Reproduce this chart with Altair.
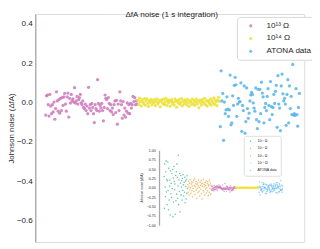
import altair as alt
import pandas as pd

FONT = "Liberation Sans"
TXT = "#262626"

# --- main chart series (Johnson noise, ΔfA) ---
pink = [-0.064, 0.034, 0.038, -0.011, -0.069, 0.041, -0.018, -0.057, -0.011, -0.048,
        0.002, -0.085, -0.031, 0.054, 0.008, -0.044, 0.015, -0.054, 0.021, -0.041,
        0.025, -0.015, 0.028, 0.046, -0.008, -0.044, 0.029, 0.048, -0.074, 0.021,
        -0.003, 0.041, 0.008, 0.018, 0.002, 0.075, -0.003, 0.008, 0.031, -0.008,
        0.015, 0.025, 0.041, -0.002, -0.011, 0.008, -0.025, -0.031, -0.008, -0.041,
        -0.018, -0.057, 0.077, -0.028, -0.011, -0.041, -0.005, -0.025, -0.057, -0.102,
        -0.011, -0.031, -0.041, 0.116, -0.005, -0.044, -0.015, -0.028, -0.005, -0.041,
        -0.093, -0.025, 0.038, 0.021, 0.015, -0.031, 0.025, -0.005, -0.041, -0.011,
        -0.048, -0.028, -0.061, -0.011, 0.008, -0.051, 0.011, -0.110, -0.008, -0.041,
        0.054, 0.008, -0.011, -0.080, 0.005, -0.064, -0.028, -0.074, -0.044, -0.002,
        -0.054, -0.011, -0.057, -0.005, -0.028, -0.011, 0.031, 0.005, 0.025, -0.011,
        0.008, -0.008]
yellow = [0.012, -0.010, 0.022, 0.004, -0.018, 0.015, 0.002, -0.006, 0.020, -0.014,
          0.008, 0.018, -0.004, -0.020, 0.010, 0.001, 0.016, -0.012, 0.006, -0.002,
          0.014, -0.016, 0.004, 0.019, -0.008, 0.000, 0.011, -0.022, 0.007, 0.013,
          -0.005, 0.017, -0.011, 0.003, 0.021, -0.015, 0.009, -0.001, 0.012, -0.019,
          0.005, 0.015, -0.007, 0.002, -0.013, 0.018, 0.006, -0.024, 0.010, -0.003,
          0.014, -0.009, 0.001, 0.020, -0.017, 0.008, -0.006, 0.013, 0.003, -0.012,
          0.016, -0.002, -0.020, 0.009, 0.004, -0.010, 0.019, -0.005, 0.011, -0.015,
          0.002, 0.017, -0.008, 0.006, -0.027, 0.012, 0.000, -0.013, 0.015, 0.005,
          -0.004, 0.021, -0.011, 0.007, -0.018, 0.010, 0.003, -0.006, 0.018, -0.014,
          0.008, -0.001, 0.024, -0.009, 0.013, 0.004, -0.016, 0.011, 0.026, 0.006]
blue = [-0.123, 0.161, 0.008, 0.046, -0.192, 0.002, -0.057, -0.038, 0.029, -0.034,
        -0.070, -0.038, 0.139, -0.113, -0.103, 0.034, -0.015, 0.087, 0.128, 0.090,
        -0.070, -0.008, 0.021, 0.002, 0.005, 0.100, -0.146, -0.015, -0.041, 0.084,
        -0.156, -0.097, 0.074, -0.031, -0.080, -0.054, 0.008, 0.038, 0.051, 0.041,
        -0.002, -0.028, -0.044, 0.074, -0.087, -0.133, 0.067, -0.097, 0.067, -0.057,
        0.103, 0.048, 0.029, -0.103, -0.025, -0.005, -0.041, 0.031, 0.070, -0.015,
        -0.087, 0.106, -0.021, -0.061, -0.025, 0.041, -0.005, 0.057, 0.087, -0.126,
        0.136, -0.008, -0.028, -0.143, 0.084, 0.144, 0.044, 0.008, 0.021, -0.008,
        -0.116, 0.041, 0.116, -0.103, 0.084, -0.031, 0.031, -0.061, 0.193, -0.064,
        -0.057, -0.066, 0.070, -0.061, -0.120, -0.025, 0.046]

# --- extra inset series ---
green = [0.30, -0.55, 0.64, 0.02, -0.24, 0.43, 0.72, -0.11, 0.22, -0.45,
         0.19, 0.69, -0.07, -0.59, 0.52, -0.33, 0.05, 0.21, -0.73, 0.45,
         -0.16, 0.12, -0.26, 0.38, -0.02, 0.49, -0.77, 0.26, -0.38, 0.57,
         0.17, -0.05, 0.10, -0.71, 0.33, -0.35, 0.43, -0.17, 0.64, 0.28,
         -0.28, 0.05, 0.87, -0.45, 0.21, -0.09, 0.38, -0.64, 0.12, 0.33,
         -0.19, 0.02, 0.19, -0.33, 0.25, -0.07, 0.35, 0.08, -0.22, 0.15,
         -0.12, 0.28, -0.40, 0.18, 0.04, -0.30, 0.22, -0.15, 0.32, -0.02]
orange = [0.08, -0.12, 0.18, 0.02, -0.20, 0.12, -0.05, 0.22, 0.00, -0.15,
          0.10, 0.16, -0.08, 0.04, -0.24, 0.14, -0.02, 0.20, -0.10, 0.06,
          0.24, -0.18, 0.03, 0.11, -0.06, 0.17, -0.28, 0.09, -0.01, 0.13,
          -0.13, 0.05, 0.21, -0.09, 0.01, -0.22, 0.15, 0.07, -0.04, 0.19,
          -0.16, 0.10, -0.30, 0.04, 0.12, -0.07, 0.23, -0.11, 0.02, 0.08,
          -0.19, 0.14, -0.03, 0.06, 0.18, -0.14, 0.00, 0.11, -0.08, 0.16,
          -0.21, 0.05, 0.09, -0.12, 0.20, -0.02, 0.13, -0.17, 0.07, -0.05]

main_labels = ["10¹³ Ω", "10¹⁴ Ω", "ATONA data"]
main_colors = ["#cc78bc", "#ece133", "#56b4e9"]
inset_labels = ["10¹¹ Ω", "10¹² Ω", "10¹³ Ω", "10¹⁴ Ω", "ATONA data"]
inset_colors = ["#029e73", "#de8f05", "#cc78bc", "#ece133", "#56b4e9"]
main_ticks = [-0.6, -0.4, -0.2, 0.0, 0.2, 0.4]
inset_ticks = [-1.0, -0.75, -0.5, -0.25, 0.0, 0.25, 0.5, 0.75, 1.0]

rows = []
k = 0
for lab, vals in zip(main_labels, [pink, yellow, blue]):
    for v in vals:
        rows.append({"sample": k, "noise": v, "series": lab})
        k += 1
main_df = pd.DataFrame(rows)

rows = []
for g, (lab, vals) in enumerate(zip(inset_labels, [green, orange, pink, yellow, blue])):
    n = len(vals)
    for i, v in enumerate(vals):
        rows.append({"pos": g + (i + 0.5) / n, "noise2": v, "group": lab})
inset_df = pd.DataFrame(rows)

W, H = 276, 234

main = alt.Chart(main_df).mark_circle(size=11, opacity=0.85).encode(
    x=alt.X("sample:Q", scale=alt.Scale(domain=[-12.7, 313.9], nice=False, zero=False), axis=None),
    y=alt.Y("noise:Q",
            scale=alt.Scale(domain=[-0.708, 0.449], nice=False, zero=False),
            axis=alt.Axis(values=main_ticks, format=".1f", title="Johnson noise (ΔfA)",
                          ticks=False, tickSize=0, grid=False, domainColor="#a8a8a8",
                          domainWidth=1.3, labelFont=FONT, labelFontSize=8.3, labelColor=TXT,
                          labelPadding=3, titleFont=FONT, titleFontSize=8, titleColor=TXT,
                          titleFontWeight="normal", titleX=-24.5, titleY=H / 2,
                          titleBaseline="middle", titleAngle=270)),
    color=alt.Color("series:N", scale=alt.Scale(domain=main_labels, range=main_colors),
                    legend=alt.Legend(title=None, orient="none", legendX=207, legendY=3,
                                      fillColor="white", strokeColor="#d8d8d8", cornerRadius=3,
                                      padding=5, symbolType="circle", symbolSize=10,
                                      symbolOffset=5, labelOffset=12, rowPadding=4,
                                      labelFont=FONT, labelFontSize=8.3, labelColor=TXT)),
)

inset = alt.Chart(inset_df).mark_circle(size=2.5, opacity=0.6).encode(
    x=alt.X("pos:Q", scale=alt.Scale(domain=[0, 5], range=[132, 254], nice=False, zero=False),
            axis=None),
    y=alt.Y("noise2:Q",
            scale=alt.Scale(domain=[-1, 1], range=[216.7, 140], nice=False, zero=False),
            axis=alt.Axis(orient="left", offset=-127, values=inset_ticks, format=".2f",
                          title="Johnson noise (ΔfA)", ticks=False, tickSize=0, grid=False,
                          domainColor="#a8a8a8", domainWidth=1.3, labelFont=FONT,
                          labelFontSize=3.6, labelColor=TXT, labelPadding=4, titleFont=FONT,
                          titleFontSize=3.4, titleColor=TXT, titleFontWeight="normal",
                          titlePadding=3)),
    color=alt.Color("group:N", scale=alt.Scale(domain=inset_labels, range=inset_colors),
                    legend=alt.Legend(title=None, orient="none", legendX=214, legendY=125,
                                      fillColor="white", strokeColor="#dddddd", cornerRadius=2,
                                      padding=3.5, symbolType="circle", symbolSize=2.5,
                                      symbolOffset=1.5, labelOffset=5, rowPadding=3.5,
                                      labelFont=FONT, labelFontSize=3.6, labelColor=TXT)),
)

chart = alt.layer(main, inset).resolve_scale(
    x="independent", y="independent", color="independent"
).properties(
    width=W, height=H,
    padding={"left": 28, "top": 3, "right": 8, "bottom": 4},
    autosize=alt.AutoSizeParams(type="none"),
    title=alt.TitleParams(text="ΔfA noise (1 s integration)", font=FONT, fontSize=8.3,
                          fontWeight="normal", color=TXT, anchor="middle", frame="group",
                          offset=-11, dx=2, baseline="alphabetic"),
).configure_view(stroke=None).configure(background="white")

chart.save("out.html", embed_options={"renderer": "svg", "actions": False})
